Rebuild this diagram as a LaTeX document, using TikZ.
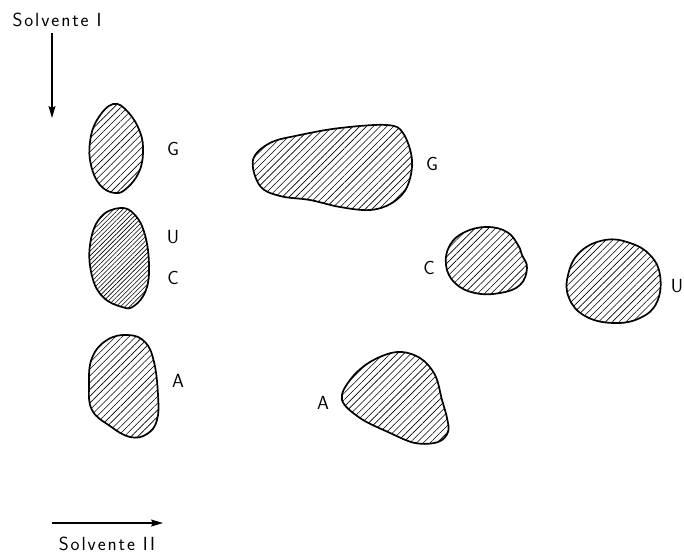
\documentclass[tikz,border=0pt]{standalone}
\usepackage{fontspec}
\setsansfont{Latin Modern Sans}[LetterSpace=10.0]
\usetikzlibrary{arrows.meta, patterns.meta}
\tikzset{
  every picture/.style={font=\sffamily, line width=1.2pt},
  spot/.style={draw=black, line width=1.7pt, pattern={Lines[angle=45, distance=#1, line width=0.6pt]}},
  spot/.default=4.8pt,
  arrow/.style={-{Stealth[length=12pt, width=7pt, inset=2pt]}, line width=1.3pt},
  lbl/.style={font=\sffamily\fontsize{19}{22}\selectfont, inner sep=0pt},
}
\begin{document}
\begin{tikzpicture}[x=1pt, y=-1pt]
  \useasboundingbox (0,0) rectangle (684,554);
  % solvent directions
  \node[lbl] (sI) at (57,20) {Solvente I};
  \coordinate (vtop) at (52,33);
  \coordinate (vend) at (52,118);
  \draw[arrow] (vtop) -- (vend);
  \coordinate (hbeg) at (52,523);
  \coordinate (hend) at (163,523);
  \draw[arrow] (hbeg) -- (hend);
  \node[lbl] (sII) at (107,544) {Solvente II};
  % first dimension (left column)
  \draw[spot] plot[smooth cycle, tension=0.7] coordinates {(113,104) (128,112) (140,132) (143,152) (139,172) (127,188) (115,193) (100,185) (91,165) (90,142) (97,120)};
  \draw[spot=3.2pt] plot[smooth cycle, tension=0.7] coordinates {(120,208) (135,215) (145,235) (149,265) (146,290) (134,306) (122,307) (103,297) (92,276) (90,245) (100,218)};
  \draw[spot] plot[smooth cycle, tension=0.7] coordinates {(128,335) (145,342) (154,362) (158,395) (157,420) (147,434) (130,437) (110,426) (92,410) (89,385) (92,358) (107,340)};
  \node[lbl] (gL) at (173,149) {G};
  \node[lbl] (ucU) at (173,237) {U};
  \node[lbl] (ucC) at (173,278) {C};
  \node[lbl] (aL) at (178,381) {A};
  % second dimension
  \draw[spot] plot[smooth cycle, tension=0.6] coordinates {(253,160) (270,143) (300,135) (340,128) (387,125) (403,133) (412,160) (407,187) (392,203) (370,210) (340,207) (310,200) (280,196) (260,186)};
  \draw[spot] plot[smooth cycle, tension=0.7] coordinates {(450,245) (465,232) (487,227) (507,232) (518,245) (522,255) (527,268) (520,285) (500,293) (475,293) (455,283) (446,265)};
  \draw[spot] plot[smooth cycle, tension=0.7] coordinates {(580,252) (605,240) (630,243) (650,255) (660,275) (657,302) (640,318) (613,323) (585,316) (569,298) (568,275)};
  \draw[spot] plot[smooth cycle, tension=0.6] coordinates {(342,400) (350,380) (370,362) (397,352) (420,358) (435,375) (442,400) (447,418) (448,432) (438,442) (415,443) (388,432) (360,418)};
  \node[lbl] (gR) at (432,164) {G};
  \node[lbl] (cR) at (429,268) {C};
  \node[lbl] (uR) at (677,286) {U};
  \node[lbl] (aR) at (323,403) {A};
\end{tikzpicture}
\end{document}
